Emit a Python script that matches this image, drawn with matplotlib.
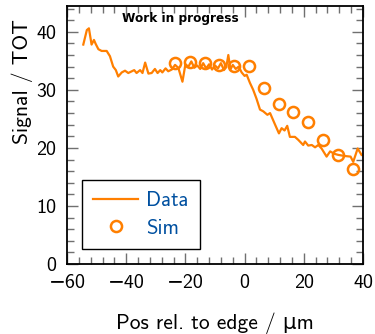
import matplotlib
matplotlib.use("Agg")
import matplotlib.pyplot as plt
from matplotlib.ticker import MultipleLocator

# Messdaten (Position relativ zur Kante, Signal in TOT)
data_x = [-54.5, -53.3, -52.6, -51.7, -50.9, -50.3, -49.4, -48.3, -46.6, -45.5,
          -44.4, -43.5, -42.7, -41.5, -40.4, -39.3, -38.1, -37.3, -36.5, -35.3,
          -34.5, -33.6, -32.5, -31.4, -30.3, -29.4, -28.5, -27.8, -26.7, -25.8,
          -24.6, -23.5, -22.4, -21.0, -20.0, -19.0, -18.0, -17.0, -16.0, -15.0,
          -14.0, -13.0, -12.0, -11.0, -10.0, -9.0, -8.0, -7.0, -6.2, -5.5,
          -4.8, -4.0, -3.0, -2.0, -1.0, 0.0, 0.7, 1.8, 2.9, 4.0,
          5.2, 6.3, 7.7, 8.6, 10.3, 11.6, 12.5, 13.5, 14.4, 15.3,
          17.0, 18.1, 19.8, 20.4, 21.5, 22.7, 23.8, 24.9, 26.0, 27.7,
          28.9, 30.2, 31.6, 33.9, 35.8, 36.7, 38.2, 39.5]
data_y = [37.8, 40.3, 40.6, 37.8, 38.6, 37.9, 37.0, 36.7, 36.7, 35.8,
          34.0, 33.4, 32.3, 33.0, 33.3, 32.9, 33.2, 33.4, 32.9, 33.4,
          32.9, 34.7, 32.8, 32.9, 33.6, 32.9, 33.4, 33.0, 33.7, 33.2,
          33.5, 34.3, 33.8, 31.4, 34.4, 34.0, 34.9, 33.8, 34.2, 33.6,
          34.6, 33.7, 34.4, 33.5, 34.2, 33.7, 34.6, 33.4, 33.9, 36.0,
          33.5, 34.3, 33.6, 34.0, 33.0, 32.4, 32.6, 31.2, 30.0, 28.5,
          26.6, 26.3, 25.7, 26.0, 24.0, 22.5, 23.4, 23.0, 23.8, 21.9,
          21.9, 21.4, 20.5, 21.1, 20.4, 20.5, 20.1, 20.5, 19.9, 18.5,
          19.4, 19.0, 18.8, 18.6, 18.5, 17.6, 19.9, 18.8]

# Simulation
sim_x = [-23.5, -18.5, -13.5, -8.5, -3.5, 1.5, 6.5, 11.5, 16.5, 21.5, 26.5, 31.5, 36.5]
sim_y = [34.7, 34.8, 34.6, 34.3, 34.1, 34.1, 30.4, 27.6, 26.2, 24.5, 21.4, 18.7, 16.4]

orange = "#ff7f00"
blue = "#0050a0"

plt.rcParams["font.family"] = ["cmss10", "DejaVu Sans"]
plt.rcParams["axes.unicode_minus"] = True

fig = plt.figure(figsize=(3.75, 3.34), dpi=100)
ax = fig.add_axes([0.1787, 0.2096, 0.7893, 0.7734])

ax.plot(data_x, data_y, color=orange, lw=1.6, label="Data")
ax.plot(sim_x, sim_y, ls="none", marker="o", ms=8, mfc="none", mec=orange,
        mew=1.8, label="Sim")

ax.set_xlim(-60, 40)
ax.set_ylim(0, 44.5)
ax.xaxis.set_major_locator(MultipleLocator(20))
ax.xaxis.set_minor_locator(MultipleLocator(4))
ax.yaxis.set_major_locator(MultipleLocator(10))
ax.yaxis.set_minor_locator(MultipleLocator(2))
ax.tick_params(which="both", direction="in", top=True, right=True,
               color="#707070", labelsize=14.5, width=1)
ax.tick_params(which="major", length=8)
ax.tick_params(which="minor", length=5)
ax.tick_params(axis="x", pad=7)
ax.tick_params(axis="y", pad=7.5)
for s in ax.spines.values():
    s.set_linewidth(1.3)

# Greek mu (U+03BC): cmss10 maps the micro sign to a wrong glyph
ax.set_xlabel("Pos rel. to edge / \u03bcm", fontsize=15.5)
ax.xaxis.set_label_coords(0.5, -0.186)
ax.set_ylabel("Signal / TOT", fontsize=15.5)
ax.yaxis.set_label_coords(-0.115, 0.7065)

ax.text(0.186, 0.952, "Work in progress", transform=ax.transAxes,
        fontsize=8.7, fontweight="bold", family=["DejaVu Sans"],
        va="center", ha="left")

leg = ax.legend(loc="lower left", bbox_to_anchor=(0.05, 0.058), borderaxespad=0,
                fontsize=15, labelcolor=blue, fancybox=False, edgecolor="black",
                framealpha=1, handlelength=2.15, handletextpad=0.4,
                borderpad=0.55, labelspacing=0.4)
leg.get_frame().set_linewidth(1.0)

fig.savefig("out.png", dpi=100)
